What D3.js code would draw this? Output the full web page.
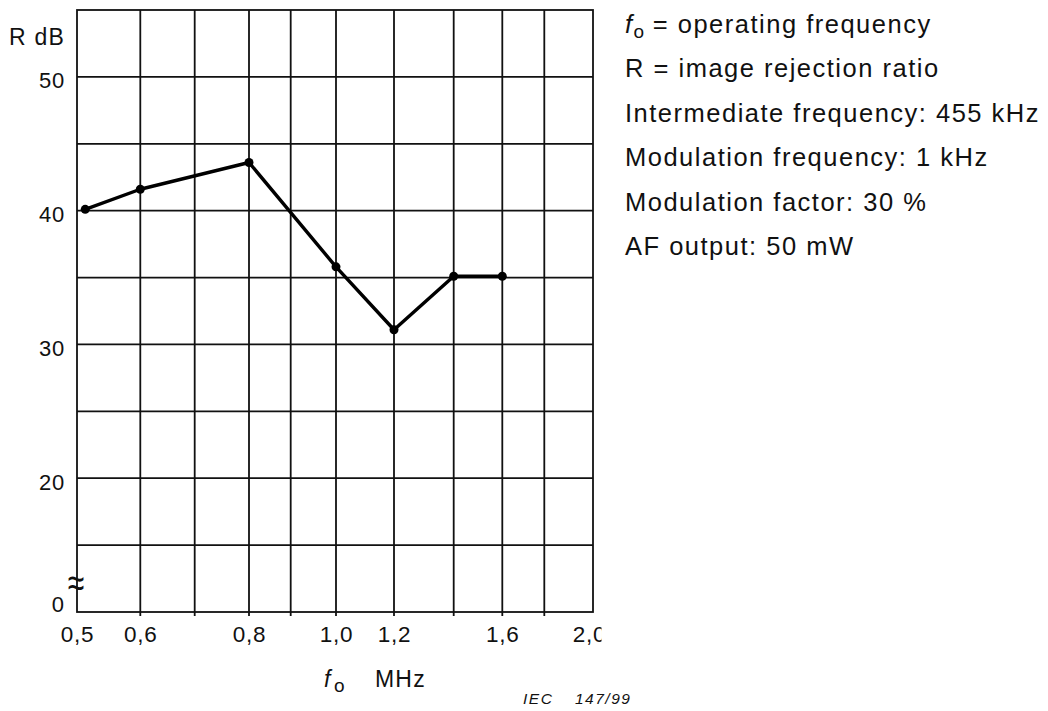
<!DOCTYPE html>
<html>
<head>
<meta charset="utf-8">
<script src="https://cdn.jsdelivr.net/npm/d3@7"></script>
<style>
  body { margin: 0; background: #fff; }
  svg { display: block; font-family: "Liberation Sans", Arial, Helvetica, sans-serif; }
</style>
</head>
<body>
<svg id="chart" width="1048" height="711"></svg>
<script>
// Image rejection ratio R (dB) measured against the operating frequency f0 (MHz)
const freqMHz     = [0.513, 0.6, 0.8, 1.0, 1.2, 1.4, 1.6];
const rejectionDb = [40.1, 41.6, 43.6, 35.8, 31.1, 35.1, 35.1];

// Frequency rulings of the chart paper and the ones that carry a label
const xGridValues = [0.5, 0.6, 0.7, 0.8, 0.9, 1.0, 1.2, 1.4, 1.6, 1.8, 2.0];
const xTickValues = [0.5, 0.6, 0.8, 1.0, 1.2, 1.6, 2.0];

// Level rulings (every 5 dB) and labelled levels
const yGridValues = [15, 20, 25, 30, 35, 40, 45, 50];
const yTickValues = [20, 30, 40, 50];

// Measurement conditions listed beside the chart
const notes = [
  "R = image rejection ratio",
  "Intermediate frequency: 455 kHz",
  "Modulation frequency: 1 kHz",
  "Modulation factor: 30 %",
  "AF output: 50 mW"
];

// ---- layout ----
const plot = { left: 77, right: 593, top: 10, bottom: 612 };
const W = plot.right - plot.left;
// The frequency axis is hand ruled, roughly logarithmic; these are the
// ruling offsets across the plot width for each value in xGridValues.
const xRuleOffsets = [0, 63.3, 117.7, 172, 213.7, 259, 317, 376.7, 425.3, 467.3, 516];

const svg = d3.select("#chart");
const ink = "#111";

const x = d3.scaleLinear()
  .domain(xGridValues)
  .range(xRuleOffsets.map(o => plot.left + o * W / 516));

const y = d3.scaleLinear()
  .domain([10, 55])
  .range([plot.bottom, plot.top]);

const fmtComma = d => d3.format(".1f")(d).replace(".", ",");

// ---- grid ----
const grid = svg.append("g").attr("stroke", ink).attr("stroke-width", 1.8);

grid.selectAll("line.v")
  .data(xGridValues.slice(1, -1))
  .join("line")
  .attr("class", "v")
  .attr("x1", d => x(d)).attr("x2", d => x(d))
  .attr("y1", plot.top).attr("y2", plot.bottom + 4);

grid.selectAll("line.h")
  .data(yGridValues)
  .join("line")
  .attr("class", "h")
  .attr("x1", plot.left).attr("x2", plot.right)
  .attr("y1", d => y(d)).attr("y2", d => y(d));

grid.append("rect")
  .attr("x", plot.left).attr("y", plot.top)
  .attr("width", W).attr("height", plot.bottom - plot.top)
  .attr("fill", "none");

// ---- axes (labels only; rulings drawn above) ----
// the frequency labels are cut off just right of the last ruling
svg.append("clipPath").attr("id", "xlabClip")
  .append("rect").attr("x", 0).attr("y", 0).attr("width", 601.5).attr("height", 60);

const xAxis = svg.append("g")
  .attr("transform", `translate(0,${plot.bottom})`)
  .attr("clip-path", "url(#xlabClip)")
  .call(d3.axisBottom(x).tickValues(xTickValues).tickFormat(fmtComma).tickSize(0).tickPadding(14));
xAxis.select(".domain").remove();
xAxis.selectAll("text")
  .attr("fill", ink)
  .attr("font-size", 22.5)
  .attr("letter-spacing", 0.8)
  .attr("font-family", null)
  .filter(d => d === 2.0).attr("dx", -4);

const yAxis = svg.append("g")
  .attr("transform", `translate(${plot.left},0)`)
  .call(d3.axisLeft(y).tickValues(yTickValues).tickFormat(d3.format("d")).tickSize(0).tickPadding(12));
yAxis.select(".domain").remove();
yAxis.selectAll("text")
  .attr("fill", ink)
  .attr("font-size", 22)
  .attr("letter-spacing", 0.8)
  .attr("font-family", null)
  .attr("dy", "0.5em");

// broken-axis origin
svg.append("text")
  .attr("x", 64).attr("y", plot.bottom)
  .attr("text-anchor", "end").attr("font-size", 22).attr("fill", ink)
  .text("0");
svg.append("text")
  .attr("transform", `translate(${plot.left - 1},597) scale(1,1.4)`)
  .attr("text-anchor", "middle").attr("font-size", 30).attr("fill", ink)
  .text("≈");

// axis titles
svg.append("text")
  .attr("x", 65).attr("y", 45)
  .attr("text-anchor", "end").attr("font-size", 23).attr("letter-spacing", 1.2).attr("fill", ink)
  .text("R dB");

const xt = svg.append("text").attr("y", 687).attr("fill", ink).attr("font-size", 23);
xt.append("tspan").attr("x", 324).attr("font-style", "italic").text("f");
xt.append("tspan").attr("x", 334).attr("dy", 5).attr("font-size", 19).text("o");
xt.append("tspan").attr("x", 375).attr("dy", -5).attr("letter-spacing", 1.2).text("MHz");

// figure reference
const ref = svg.append("g").attr("font-size", 15.5).attr("font-style", "italic")
  .attr("letter-spacing", 1.5).attr("fill", ink);
ref.append("text").attr("x", 523).attr("y", 704).text("IEC");
ref.append("text").attr("x", 575).attr("y", 704).text("147/99");

// ---- data line and points ----
const pts = freqMHz.map((f, i) => [f, rejectionDb[i]]);

svg.append("path")
  .datum(pts)
  .attr("fill", "none")
  .attr("stroke", "#000")
  .attr("stroke-width", 3.4)
  .attr("stroke-linejoin", "round")
  .attr("d", d3.line().x(d => x(d[0])).y(d => y(d[1])));

svg.selectAll("circle.pt")
  .data(pts)
  .join("circle")
  .attr("class", "pt")
  .attr("cx", d => x(d[0])).attr("cy", d => y(d[1]))
  .attr("r", 4.5)
  .attr("fill", "#000");

// ---- notes ----
const notesG = svg.append("g").attr("font-size", 25.5).attr("letter-spacing", 1.5).attr("fill", ink);
const lineGap = 44.5, firstBase = 32.7, notesX = 625;

const first = notesG.append("text").attr("x", notesX).attr("y", firstBase);
first.append("tspan").attr("font-style", "italic").text("f");
first.append("tspan").attr("dy", 5).attr("font-size", 19).attr("letter-spacing", 0).text("o");
first.append("tspan").attr("dy", -5).text(" = operating frequency");

notesG.selectAll("text.note")
  .data(notes)
  .join("text")
  .attr("class", "note")
  .attr("x", notesX)
  .attr("y", (d, i) => firstBase + (i + 1) * lineGap)
  .text(d => d);
</script>
</body>
</html>
